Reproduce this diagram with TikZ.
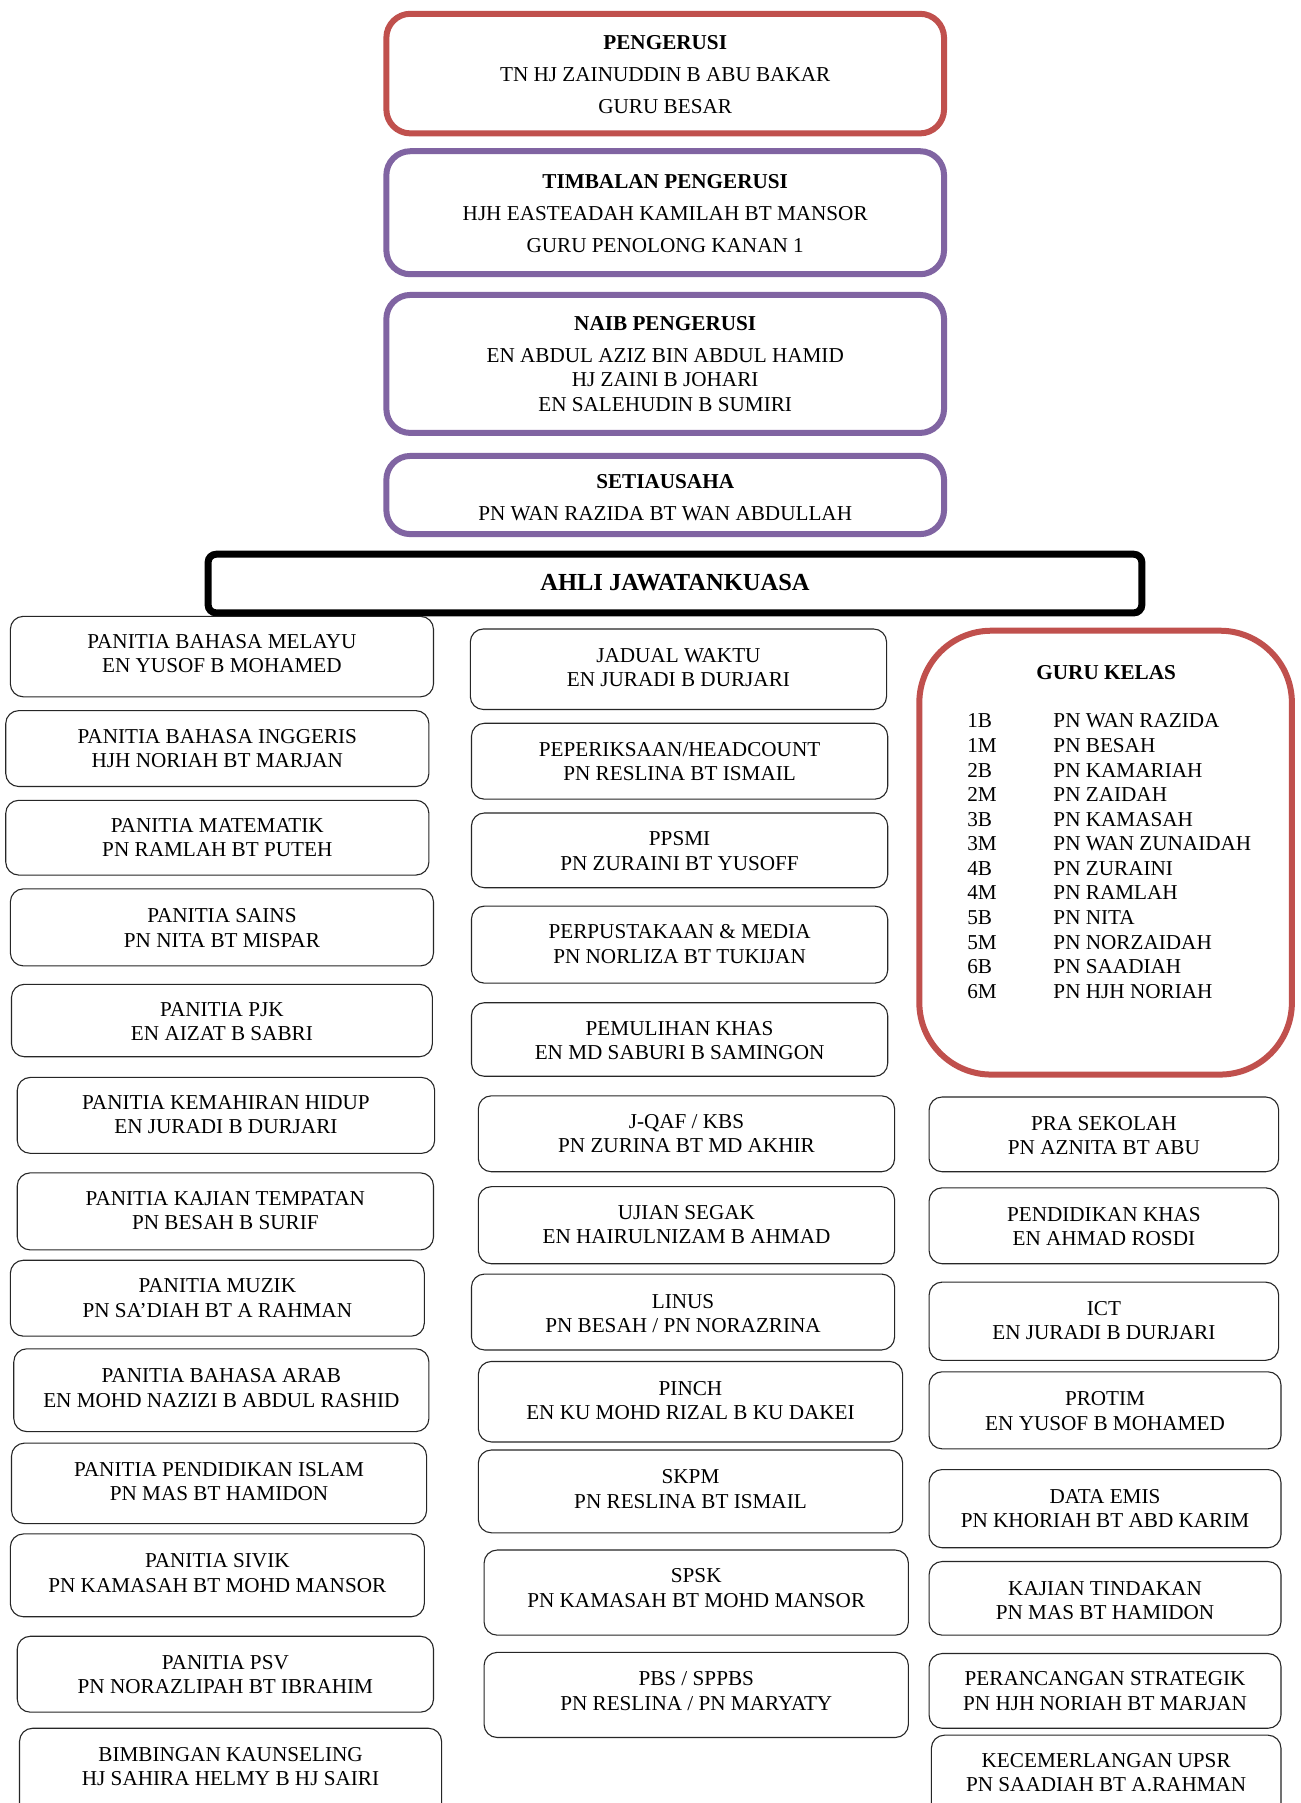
\documentclass[tikz,border=0pt]{standalone}
\usepackage{fontspec}
\setmainfont{Liberation Serif}
\definecolor{ored}{HTML}{C0504D}
\definecolor{opurple}{HTML}{8064A2}
\def\un{1.1503pt}
\tikzset{
  thinbox/.style={rectangle, draw=black!85, line width=1.1pt, rounded corners=13pt, inner sep=0pt},
  redbox/.style={rectangle, draw=ored, line width=6pt, rounded corners=24pt, inner sep=0pt},
  purplebox/.style={rectangle, draw=opurple, line width=6pt, rounded corners=24pt, inner sep=0pt},
  headbox/.style={rectangle, draw=black, line width=7pt, rounded corners=8pt, inner sep=0pt},
  classbox/.style={rectangle, draw=ored, line width=6pt, rounded corners=72pt, inner sep=0pt},
  lbl/.style={align=center, inner sep=0pt, font=\fontsize{21.2pt}{24.5pt}\selectfont},
  row/.style={anchor=base west, inner sep=0pt, font=\fontsize{21.2pt}{24.5pt}\selectfont},
}
% #1 style, #2 name, #3..#6 corners (x1,y1,x2,y2), #7 text centre y, #8 text
\newcommand\orgbox[8]{%
  \node[#1, minimum width={(#5-#3)*\un}, minimum height={(#6-#4)*\un}] (#2) at ({(#3+#5)/2},{(#4+#6)/2}) {};
  \node[lbl] (#2-t) at ({(#3+#5)/2},{#7+1}) {#8};
}
\begin{document}
\begin{tikzpicture}[x=\un, y=-\un]
\useasboundingbox (0,0) rectangle (1131,1568);
\clip (0,0) rectangle (1131,1568);
\fill[white] (0,0) rectangle (1131,1568);

% committee heads
\orgbox{redbox}{chair}{336}{12}{821}{116}{64}{\textbf{PENGERUSI}\\[7.7pt]TN HJ ZAINUDDIN B ABU BAKAR\\[7.7pt]GURU BESAR}
\orgbox{purplebox}{vice}{336}{131.5}{821}{238.5}{184.5}{\textbf{TIMBALAN PENGERUSI}\\[7.7pt]HJH EASTEADAH KAMILAH BT MANSOR\\[7.7pt]GURU PENOLONG KANAN 1}
\orgbox{purplebox}{deputy}{336}{256.5}{821}{376.5}{315.5}{\textbf{NAIB PENGERUSI}\\[7.7pt]EN ABDUL AZIZ BIN ABDUL HAMID\\HJ ZAINI B JOHARI\\EN SALEHUDIN B SUMIRI}
\orgbox{purplebox}{secretary}{336}{396.5}{821}{464.5}{432}{\textbf{SETIAUSAHA}\\[7.7pt]PN WAN RAZIDA BT WAN ABDULLAH}
\node[headbox, minimum width={812*\un}, minimum height={51*\un}] (members) at (587,507.5) {};
\node[lbl, font=\fontsize{24.5pt}{28pt}\selectfont\bfseries] (members-t) at (587,507) {AHLI JAWATANKUASA};

% left column
\orgbox{thinbox}{l1}{9}{536}{377}{606}{567.5}{PANITIA BAHASA MELAYU\\EN YUSOF B MOHAMED}
\orgbox{thinbox}{l2}{5}{618}{373}{684}{650}{PANITIA BAHASA INGGERIS\\HJH NORIAH BT MARJAN}
\orgbox{thinbox}{l3}{5}{696}{373}{761}{727.5}{PANITIA MATEMATIK\\PN RAMLAH BT PUTEH}
\orgbox{thinbox}{l4}{9}{773}{377}{840}{806}{PANITIA SAINS\\PN NITA BT MISPAR}
\orgbox{thinbox}{l5}{10}{856}{376}{919}{887.5}{PANITIA PJK\\EN AIZAT B SABRI}
\orgbox{thinbox}{l6}{15}{937}{378}{1003}{968.5}{PANITIA KEMAHIRAN HIDUP\\EN JURADI B DURJARI}
\orgbox{thinbox}{l7}{15}{1020}{377}{1087}{1052}{PANITIA KAJIAN TEMPATAN\\PN BESAH B SURIF}
\orgbox{thinbox}{l8}{9}{1096}{369}{1162}{1128}{PANITIA MUZIK\\PN SA’DIAH BT A RAHMAN}
\orgbox{thinbox}{l9}{12}{1173}{373}{1245}{1206}{PANITIA BAHASA ARAB\\EN MOHD NAZIZI B ABDUL RASHID}
\orgbox{thinbox}{l10}{10}{1255}{371}{1325}{1287.5}{PANITIA PENDIDIKAN ISLAM\\PN MAS BT HAMIDON}
\orgbox{thinbox}{l11}{9}{1334}{369}{1406}{1367}{PANITIA SIVIK\\PN KAMASAH BT MOHD MANSOR}
\orgbox{thinbox}{l12}{15}{1423}{377}{1489}{1455.5}{PANITIA PSV\\PN NORAZLIPAH BT IBRAHIM}
\orgbox{thinbox}{l13}{17}{1503}{384}{1590}{1535.5}{BIMBINGAN KAUNSELING\\HJ SAHIRA HELMY B HJ SAIRI}

% middle column
\orgbox{thinbox}{m1}{409}{547}{771}{617}{579.5}{JADUAL WAKTU\\EN JURADI B DURJARI}
\orgbox{thinbox}{m2}{410}{629}{772}{695}{661.5}{PEPERIKSAAN/HEADCOUNT\\PN RESLINA BT ISMAIL}
\orgbox{thinbox}{m3}{410}{707}{772}{772}{739}{PPSMI\\PN ZURAINI BT YUSOFF}
\orgbox{thinbox}{m4}{410}{788}{772}{855}{820}{PERPUSTAKAAN \& MEDIA\\PN NORLIZA BT TUKIJAN}
\orgbox{thinbox}{m5}{410}{872}{772}{936}{904}{PEMULIHAN KHAS\\EN MD SABURI B SAMINGON}
\orgbox{thinbox}{m6}{416}{953}{778}{1019}{985}{J-QAF / KBS\\PN ZURINA BT MD AKHIR}
\orgbox{thinbox}{m7}{416}{1032}{778}{1099}{1064}{UJIAN SEGAK\\EN HAIRULNIZAM B AHMAD}
\orgbox{thinbox}{m8}{410}{1108}{778}{1174}{1141.5}{LINUS\\PN BESAH / PN NORAZRINA}
\orgbox{thinbox}{m9}{416}{1184}{785}{1254}{1217}{PINCH\\EN KU MOHD RIZAL B KU DAKEI}
\orgbox{thinbox}{m10}{416}{1261}{785}{1333}{1294}{SKPM\\PN RESLINA BT ISMAIL}
\orgbox{thinbox}{m11}{421}{1348}{790}{1422}{1380}{SPSK\\PN KAMASAH BT MOHD MANSOR}
\orgbox{thinbox}{m12}{421}{1437}{790}{1511}{1469.5}{PBS / SPPBS\\PN RESLINA / PN MARYATY}

% class teachers
\node[classbox, minimum width={324*\un}, minimum height={386*\un}] (classes) at (961.5,741.5) {};
\node[lbl, font=\fontsize{21.2pt}{24.5pt}\selectfont\bfseries] (classes-t) at (962,585) {GURU KELAS};
\foreach \c/\n [count=\i] in {1B/PN WAN RAZIDA, 1M/PN BESAH, 2B/PN KAMARIAH, 2M/PN ZAIDAH,
    3B/PN KAMASAH, 3M/PN WAN ZUNAIDAH, 4B/PN ZURAINI, 4M/PN RAMLAH, 5B/PN NITA,
    5M/PN NORZAIDAH, 6B/PN SAADIAH, 6M/PN HJH NORIAH} {
  \node[row] (code\i) at (841,{633.1+(\i-1)*21.36}) {\c};
  \node[row] (teacher\i) at (916,{633.1+(\i-1)*21.36}) {\n};
}

% right column
\orgbox{thinbox}{r1}{808}{954}{1112}{1019}{986.5}{PRA SEKOLAH\\PN AZNITA BT ABU}
\orgbox{thinbox}{r2}{808}{1033}{1112}{1099}{1065.5}{PENDIDIKAN KHAS\\EN AHMAD ROSDI}
\orgbox{thinbox}{r3}{808}{1115}{1112}{1183}{1147.5}{ICT\\EN JURADI B DURJARI}
\orgbox{thinbox}{r4}{808}{1193}{1114}{1260}{1226}{PROTIM\\EN YUSOF B MOHAMED}
\orgbox{thinbox}{r5}{808}{1278}{1114}{1346}{1311}{DATA EMIS\\PN KHORIAH BT ABD KARIM}
\orgbox{thinbox}{r6}{808}{1358}{1114}{1422}{1391}{KAJIAN TINDAKAN\\PN MAS BT HAMIDON}
\orgbox{thinbox}{r7}{808}{1438}{1114}{1503}{1469.5}{PERANCANGAN STRATEGIK\\PN HJH NORIAH BT MARJAN}
\orgbox{thinbox}{r8}{810}{1509}{1114}{1590}{1540.5}{KECEMERLANGAN UPSR\\PN SAADIAH BT A.RAHMAN}
\end{tikzpicture}
\end{document}
